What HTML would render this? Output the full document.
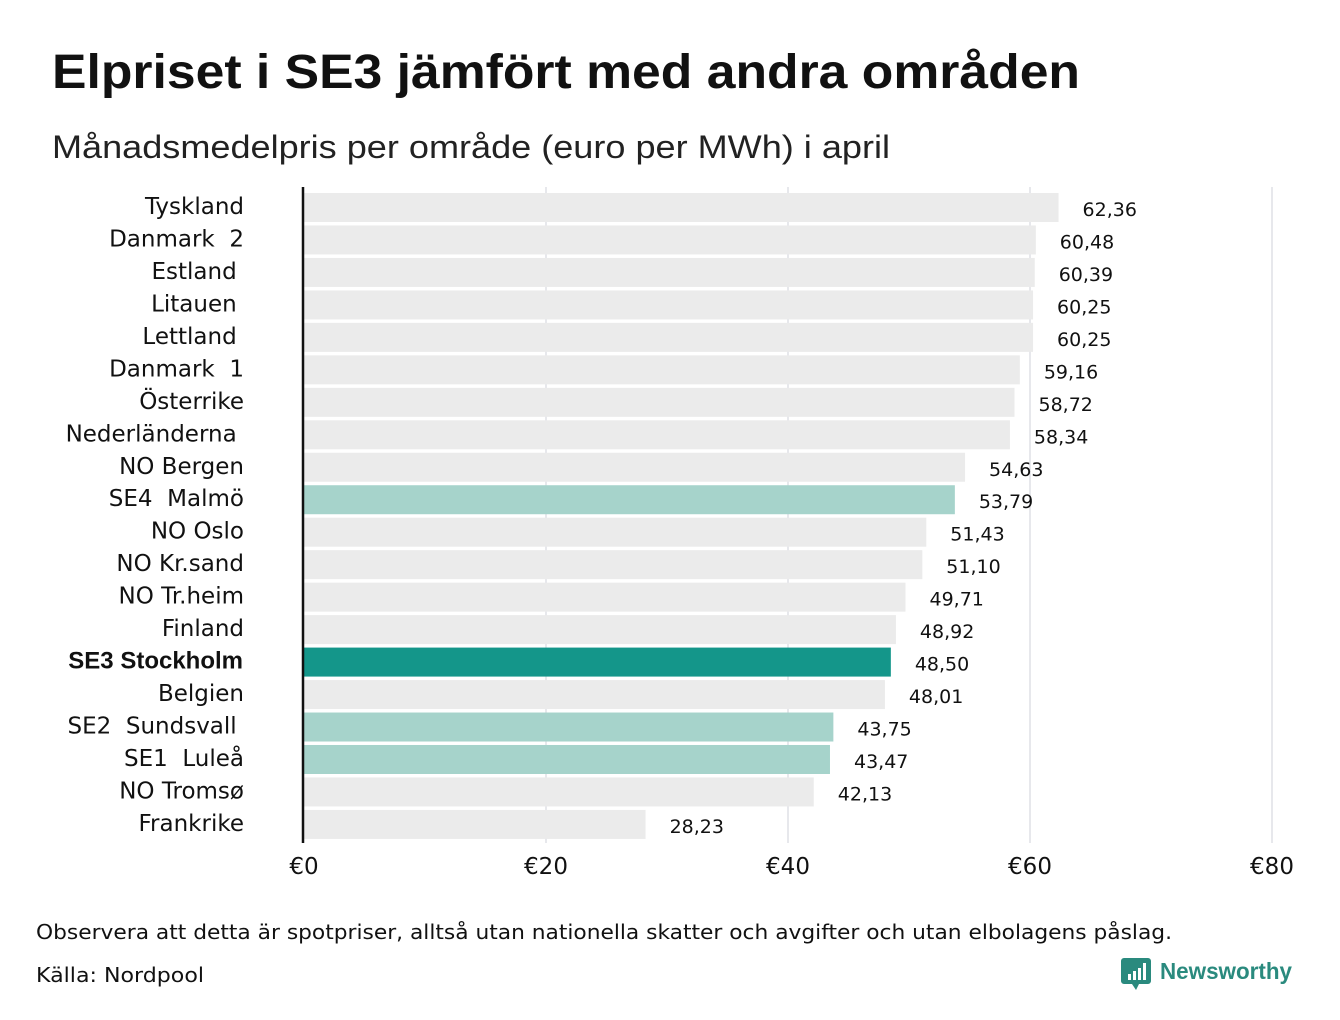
<!DOCTYPE html>
<html><head><meta charset="utf-8"><style>
html,body{margin:0;padding:0;background:#fff;}
svg{display:block;font-family:"Liberation Sans","DejaVu Sans",sans-serif;}
.dv{font-family:"DejaVu Sans","Liberation Sans",sans-serif;}
</style></head><body>
<svg id="chart" width="1340" height="1020" viewBox="0 0 1340 1020">
<text x="52" y="88" font-size="48" font-weight="bold" fill="#111" textLength="1028" lengthAdjust="spacingAndGlyphs">Elpriset i SE3 jämfört med andra områden</text>
<text x="52" y="158" font-size="32" fill="#222" textLength="838" lengthAdjust="spacingAndGlyphs">Månadsmedelpris per område (euro per MWh) i april</text>
<g id="grid"></g>
<g id="bars"></g>
<g id="labels"></g>
<g id="values"></g>
<g id="ticks"></g>
<line x1="303" y1="187" x2="303" y2="843" stroke="#111" stroke-width="2.5"/>
<text class="dv" x="36" y="939" font-size="20" fill="#111" textLength="1136" lengthAdjust="spacingAndGlyphs">Observera att detta är spotpriser, alltså utan nationella skatter och avgifter och utan elbolagens påslag.</text>
<text class="dv" x="36" y="982" font-size="20" fill="#111" textLength="168" lengthAdjust="spacingAndGlyphs">Källa: Nordpool</text>
<g>
<path d="M1124 958 h24 a3 3 0 0 1 3 3 v20 a3 3 0 0 1 -3 3 h-9 l-3 6 l-4 -6 h-8 a3 3 0 0 1 -3 -3 v-20 a3 3 0 0 1 3 -3z" fill="#2a8a7e"/>
<rect x="1128" y="974" width="3" height="6" fill="#fff"/><rect x="1133" y="971" width="3" height="9" fill="#fff"/><rect x="1138" y="968" width="3" height="12" fill="#fff"/><rect x="1143" y="963" width="3" height="17" fill="#fff"/>
<text x="1160" y="979" font-size="23" font-weight="bold" fill="#2a8a7e" textLength="132" lengthAdjust="spacingAndGlyphs">Newsworthy</text>
</g>
</svg>
<script>
const categories=["Tyskland","Danmark  2","Estland ","Litauen ","Lettland ","Danmark  1","Österrike","Nederländerna ","NO Bergen","SE4  Malmö","NO Oslo","NO Kr.sand","NO Tr.heim","Finland","SE3 Stockholm","Belgien","SE2  Sundsvall ","SE1  Luleå","NO Tromsø","Frankrike"];
const values=[62.36,60.48,60.39,60.25,60.25,59.16,58.72,58.34,54.63,53.79,51.43,51.10,49.71,48.92,48.50,48.01,43.75,43.47,42.13,28.23];
const highlight=["","","","","","","","","","light","","","","","dark","","light","light","",""];
const ticks=[0,20,40,60,80];
const NS="http://www.w3.org/2000/svg";
const x=v=>304+v*12.1;
const y=i=>193+i*32.47;
const bh=29;
function mk(tag,attrs,parent,txt){const e=document.createElementNS(NS,tag);for(const k in attrs)e.setAttribute(k,attrs[k]);if(txt!==undefined)e.textContent=txt;document.getElementById(parent).appendChild(e);return e;}
ticks.forEach((t,i)=>{
 if(t>0){const g=mk('line',{x1:x(t),x2:x(t),y1:187,y2:843,stroke:'#cfd0da','stroke-width':1},'grid');
 
 }
 const tl=mk('text',{x:x(t),y:874,'font-size':23,'text-anchor':'middle',fill:'#111',class:'dv'},'ticks','€'+t);
 
 
});
categories.forEach((c,i)=>{
 const fill=highlight[i]==='dark'?'#14968a':highlight[i]==='light'?'#a6d3cb':'#ebebeb';
 const r=mk('rect',{x:x(0),y:y(i),width:x(values[i])-x(0),height:bh,fill:fill},'bars');
 
 
 const dark=highlight[i]==='dark';
 const l=mk('text',{x:dark?243:244,y:y(i)+21,'font-size':dark?24:23,'text-anchor':'end',fill:'#111','font-weight':dark?'bold':'normal',class:dark?'':'dv'},'labels',c);
 l.style.whiteSpace='pre';
 
 
 const v=mk('text',{x:x(values[i])+24,y:y(i)+23,'font-size':19,fill:'#111',class:'dv'},'values',values[i].toFixed(2).replace('.',','));
 
 
});
</script>
</body></html>
